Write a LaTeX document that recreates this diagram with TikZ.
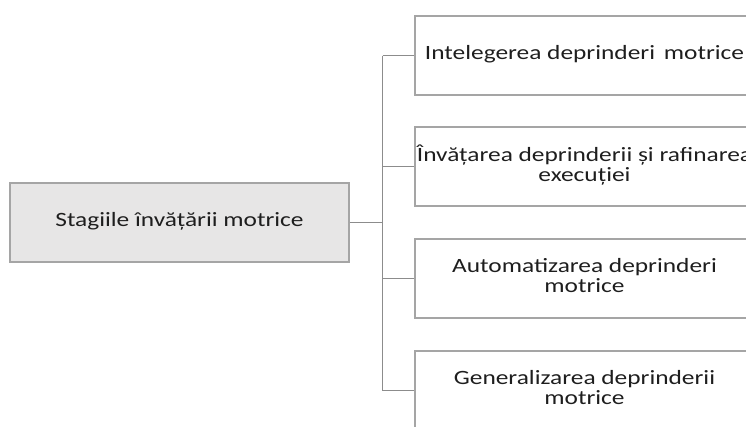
\documentclass[tikz,border=0pt]{standalone}
\usepackage{fontspec}
\usepackage{graphicx}
\setmainfont{Carlito}
\definecolor{boxline}{HTML}{A5A5A5}
\definecolor{conn}{HTML}{8C8C8C}
\definecolor{boxfill}{HTML}{E7E6E6}
\definecolor{txt}{HTML}{1E1E1E}
\newcommand{\wt}[1]{\makebox[0pt]{\scalebox{1.25}[1]{\fontsize{20.3}{19.5}\selectfont\begin{tabular}{@{}c@{}}#1\end{tabular}}}}
\tikzset{
  stagebox/.style={draw=boxline, line width=1.5pt, rectangle, minimum width=339pt, minimum height=79pt, inner sep=0pt, text=txt},
  conline/.style={draw=conn, line width=1.8pt}
}
\begin{document}
\begin{tikzpicture}[x=1pt,y=-1pt]
\useasboundingbox (0,0) rectangle (746,426);
\clip (0,0) rectangle (746,426);
\node[stagebox, fill=boxfill] (root) at (179.5,222.5) {\wt{Stagiile învățării motrice}};
\node[stagebox] (s1) at (584.5,55.5) {\wt{Intelegerea deprinderi \hspace{0.12em}motrice}};
\node[stagebox] (s2) at (584.5,166.5) {\wt{Învățarea deprinderii și rafinarea\\execuției}};
\node[stagebox] (s3) at (584.5,278.5) {\wt{Automatizarea deprinderi\\motrice}};
\node[stagebox] (s4) at (584.5,390.5) {\wt{Generalizarea deprinderii\\motrice}};
\coordinate (j) at (382.5,222.5);
\coordinate (jt) at (382.5,55.5);
\coordinate (jb) at (382.5,390.5);
\draw[conline] (root.east) -- (j);
\draw[conline] (jt) -- (jb);
\draw[conline] (jt) -- (s1.west);
\draw[conline] (j |- s2.west) -- (s2.west);
\draw[conline] (j |- s3.west) -- (s3.west);
\draw[conline] (jb) -- (s4.west);
\end{tikzpicture}
\end{document}
